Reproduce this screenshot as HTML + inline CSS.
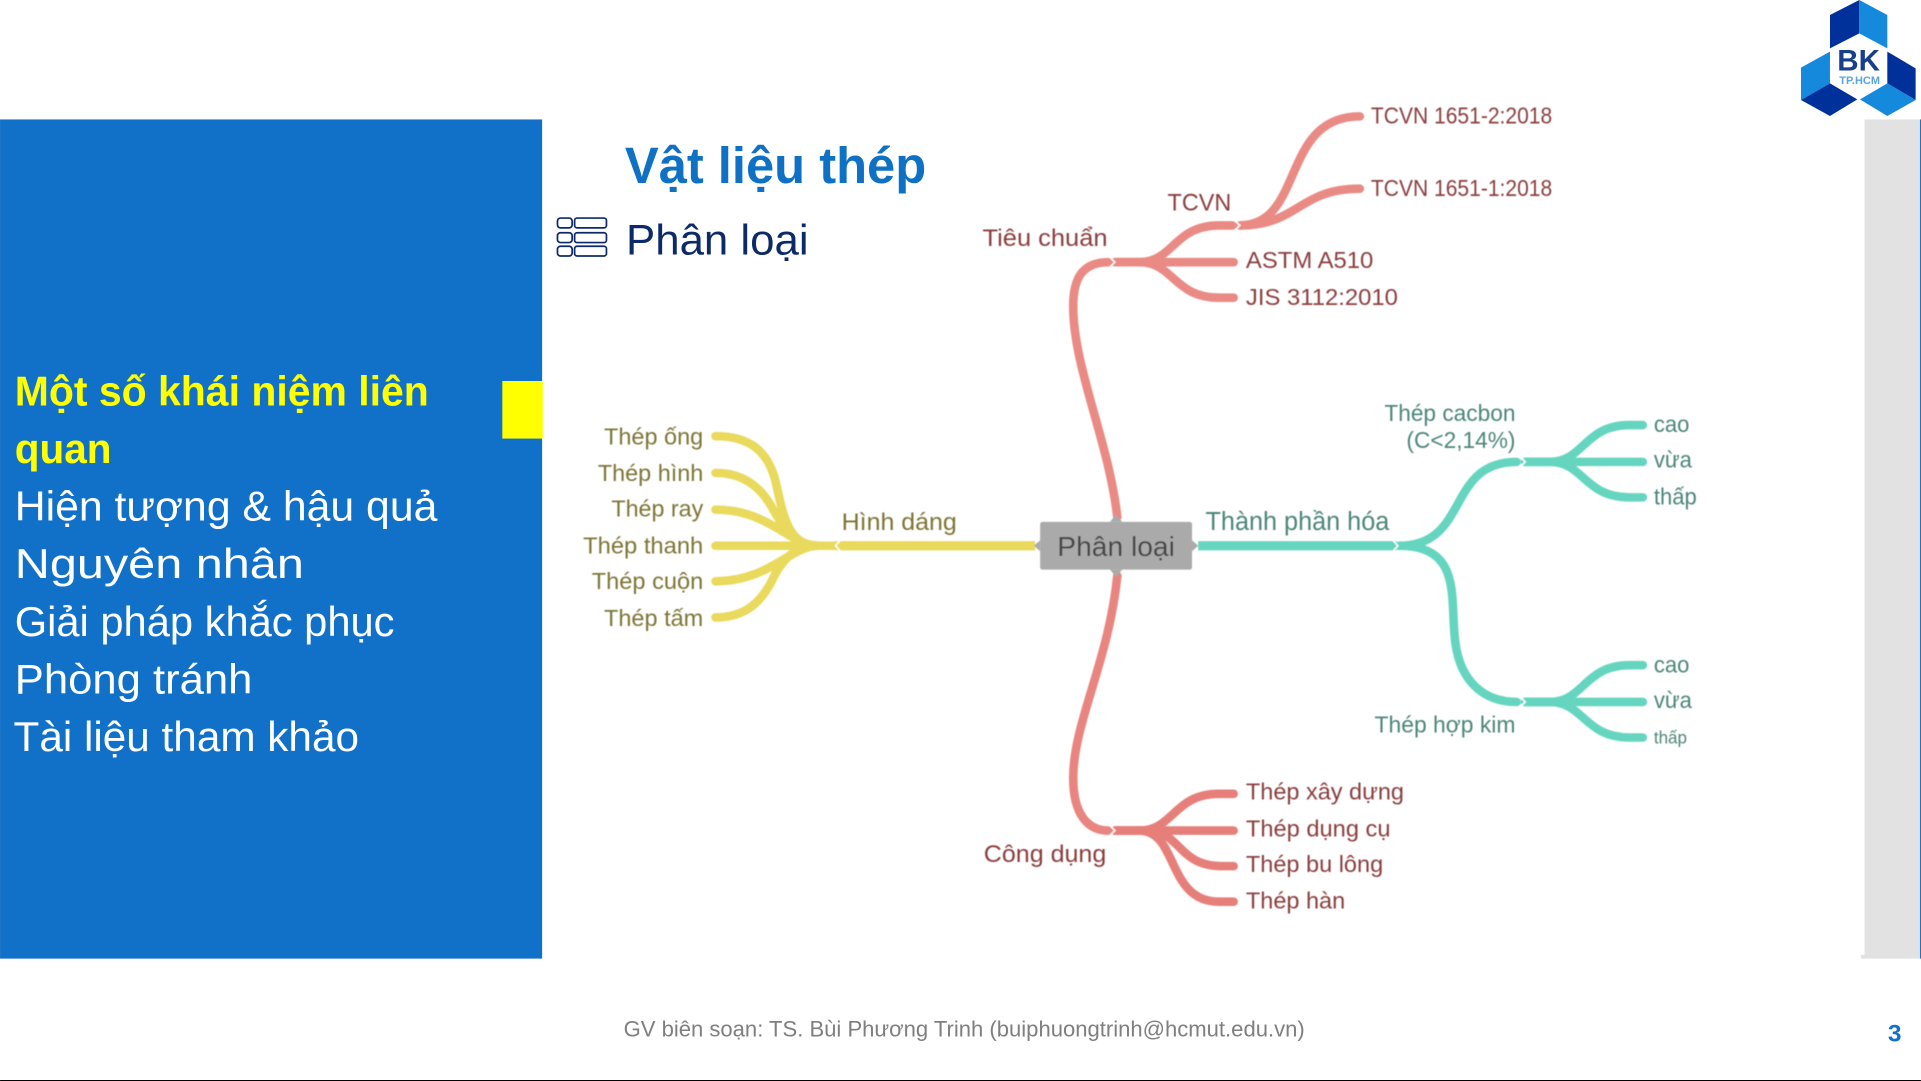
<!DOCTYPE html>
<html><head><meta charset="utf-8"><style>
html,body{margin:0;padding:0;background:#fff;width:1921px;height:1081px;overflow:hidden}
svg{display:block}
text{font-family:"Liberation Sans",sans-serif}
.s{font-size:34px;fill:#fff}
.r{fill:#8a3d3d;font-size:18.5px}
.y{fill:#7d7436;font-size:18.5px}
.t{fill:#4c8578;font-size:18.5px}
</style></head><body>
<svg width="1921" height="1081" viewBox="0 0 1568 882.4" xmlns="http://www.w3.org/2000/svg">
<defs><filter id="b" x="-5%" y="-5%" width="110%" height="110%"><feGaussianBlur stdDeviation="0.45"/></filter></defs>
<rect width="1568" height="882.4" fill="#fff"/>
<!-- sidebar -->
<rect x="0" y="97.5" width="442.5" height="685" fill="#1170c8"/>
<rect x="410" y="311" width="33" height="47" fill="#ffff00"/>
<text class="s" x="12" y="331" textLength="338" lengthAdjust="spacingAndGlyphs" style="fill:#ffff00;font-weight:bold">Một số khái niệm liên</text>
<text class="s" x="12" y="378" textLength="79" lengthAdjust="spacingAndGlyphs" style="fill:#ffff00;font-weight:bold">quan</text>
<text class="s" x="12" y="425" textLength="345" lengthAdjust="spacingAndGlyphs">Hiện tượng &amp; hậu quả</text>
<text class="s" x="12" y="472" textLength="236" lengthAdjust="spacingAndGlyphs">Nguyên nhân</text>
<text class="s" x="12" y="519" textLength="310" lengthAdjust="spacingAndGlyphs">Giải pháp khắc phục</text>
<text class="s" x="12" y="566" textLength="194" lengthAdjust="spacingAndGlyphs">Phòng tránh</text>
<text class="s" x="11" y="613" textLength="282" lengthAdjust="spacingAndGlyphs">Tài liệu tham khảo</text>
<!-- right column -->
<rect x="1522" y="97.5" width="46" height="685" fill="#e2e2e2"/>
<rect x="1519" y="779.5" width="4" height="3" fill="#e2e2e2"/>
<rect x="1567.2" y="97.5" width="0.8" height="685" fill="#1170c8"/>
<rect x="0" y="881.6" width="1568" height="0.82" fill="#000"/>
<!-- title -->
<text x="510" y="149.3" font-size="42" font-weight="bold" fill="#0f71c4" textLength="246" lengthAdjust="spacingAndGlyphs">Vật liệu thép</text>
<text x="511" y="207.6" font-size="35" fill="#0c2a6a" textLength="149" lengthAdjust="spacingAndGlyphs">Phân loại</text>
<g fill="none" stroke="#0c2a6a" stroke-width="1.4">
<rect x="455" y="178" width="12" height="8" rx="2.5"/><rect x="469" y="178" width="26" height="8" rx="2"/>
<rect x="455" y="190" width="12" height="8" rx="2.5"/><rect x="469" y="190" width="26" height="8" rx="2"/>
<rect x="455" y="201" width="12" height="8" rx="2.5"/><rect x="469" y="201" width="26" height="8" rx="2"/>
</g>
<!-- logo -->
<g transform="scale(0.81625) translate(1750,0) scale(0.33333)">
<polygon points="328,0 240,45 240,145 328,100" fill="#00309a"/>
<polygon points="328,0 412,45 412,145 328,100" fill="#1589dc"/>
<polygon points="412,155 497,205 497,300 412,250" fill="#00309a"/>
<polygon points="412,250 497,300 412,348 330,298" fill="#1589dc"/>
<polygon points="153,203 240,155 240,250 153,300" fill="#1589dc"/>
<polygon points="240,250 322,298 240,348 153,300" fill="#00309a"/>
<text x="262" y="212" font-size="90" font-weight="bold" fill="#173f8c" textLength="128" lengthAdjust="spacingAndGlyphs">BK</text>
<text x="268" y="252" font-size="32" font-weight="bold" fill="#5aa4e0" textLength="122" lengthAdjust="spacingAndGlyphs">TP.HCM</text>
</g>
<!-- mind map -->
<g filter="url(#b)">
<g fill="none" stroke-linecap="round" stroke-width="7">
<g stroke="#e9d95c">
<path d="M682 445.5H845" stroke-width="7.5" stroke-linecap="butt"/>
<path d="M684 445.5H668C645 445.5 640 425 634 397C628 368 612 356 584 356"/>
<path d="M684 445.5H668C650 445.5 640 432 630 414C620 396 605 386 584 386"/>
<path d="M684 445.5H668C645 445.5 628 416 584 416"/>
<path d="M684 445.5H584"/>
<path d="M684 445.5H668C645 445.5 628 474.5 584 474.5"/>
<path d="M684 445.5H668C650 445.5 640 455 632 470C622 492 608 504 584 504"/>
</g>
<g stroke="#e98a84">
<path d="M912 422C905 360 876 300 876 250C876 225 885 214 905 214"/>
<path d="M912 470C905 540 876 590 876 635C876 665 888 678 905 678" stroke="#e88580"/>
<path d="M910 214H930C958 214 958 184 995 184H1006"/>
<path d="M910 214H1007"/>
<path d="M910 214H930C958 214 958 243 995 243H1007"/>
<path d="M1012 184C1065 184 1045 95 1110 95"/>
<path d="M1012 184C1060 184 1060 154 1110 154"/>
</g>
<g stroke="#e67f7a">
<path d="M910 678H930C958 678 958 648 995 648H1007"/>
<path d="M910 678H1007"/>
<path d="M910 678H935C965 678 960 707 998 707H1007"/>
<path d="M910 678H930C962 678 952 736 995 736H1007"/>
</g>
<g stroke="#66d5bf">
<path d="M978 445.5H1140" stroke-width="7.5" stroke-linecap="butt"/>
<path d="M1142 445.5C1200 445.5 1180 377 1238 377"/>
<path d="M1142 445.5C1195 445.5 1183 490 1188 525C1192 555 1210 573 1238 573"/>
<path d="M1245 377H1265C1293 377 1293 347 1330 347H1341"/>
<path d="M1245 377H1341"/>
<path d="M1245 377H1265C1293 377 1293 406 1330 406H1341"/>
<path d="M1245 573H1265C1293 573 1293 543 1330 543H1341"/>
<path d="M1245 573H1341"/>
<path d="M1245 573H1265C1293 573 1293 602 1330 602H1341"/>
</g>
</g>
<g fill="none" stroke="#fff" stroke-width="1.3">
<polyline points="686,441 682,445.5 686,450"/>
<polyline points="1137,441 1141,445.5 1137,450"/>
<polyline points="906,210 910,214 906,218"/>
<polyline points="906,674 910,678 906,682"/>
<polyline points="1008,180 1012,184 1008,188"/>
<polyline points="1241,373 1245,377 1241,381"/>
<polyline points="1241,569 1245,573 1241,577"/>
</g>
<rect x="849" y="426" width="124" height="39" rx="2" fill="#aaaaaa"/>
<g fill="#aaaaaa">
<polygon points="911,420 916,426 906,426"/><polygon points="911,471 916,465 906,465"/>
<polygon points="844,445.5 849,441 849,450"/><polygon points="978,445.5 973,441 973,450"/>
</g>
<text x="863" y="454" font-size="23" fill="#444" textLength="96" lengthAdjust="spacingAndGlyphs">Phân loại</text>
<g transform="translate(0,0.8)">
<text class="r" x="1119" y="100" textLength="148" lengthAdjust="spacingAndGlyphs">TCVN 1651-2:2018</text>
<text class="r" x="1119" y="159" textLength="148" lengthAdjust="spacingAndGlyphs">TCVN 1651-1:2018</text>
<text class="r" x="953" y="171" textLength="52" lengthAdjust="spacingAndGlyphs" style="font-size:20px">TCVN</text>
<text class="r" x="802" y="200" textLength="102" lengthAdjust="spacingAndGlyphs" style="font-size:20px">Tiêu chuẩn</text>
<text class="r" x="1017" y="218" textLength="104" lengthAdjust="spacingAndGlyphs">ASTM A510</text>
<text class="r" x="1017" y="248" textLength="124" lengthAdjust="spacingAndGlyphs">JIS 3112:2010</text>
<text class="r" x="803" y="703" textLength="100" lengthAdjust="spacingAndGlyphs" style="font-size:20px">Công dụng</text>
<text class="r" x="1017" y="652" textLength="129" lengthAdjust="spacingAndGlyphs">Thép xây dựng</text>
<text class="r" x="1017" y="682" textLength="118" lengthAdjust="spacingAndGlyphs">Thép dụng cụ</text>
<text class="r" x="1017" y="711" textLength="112" lengthAdjust="spacingAndGlyphs">Thép bu lông</text>
<text class="r" x="1017" y="741" textLength="81" lengthAdjust="spacingAndGlyphs">Thép hàn</text>

<text class="y" x="687" y="432" textLength="94" lengthAdjust="spacingAndGlyphs" style="font-size:20px">Hình dáng</text>
<text class="y" x="493" y="362" textLength="81" lengthAdjust="spacingAndGlyphs">Thép ống</text>
<text class="y" x="488" y="392" textLength="86" lengthAdjust="spacingAndGlyphs">Thép hình</text>
<text class="y" x="499" y="421" textLength="75" lengthAdjust="spacingAndGlyphs">Thép ray</text>
<text class="y" x="476" y="451" textLength="98" lengthAdjust="spacingAndGlyphs">Thép thanh</text>
<text class="y" x="483" y="480" textLength="91" lengthAdjust="spacingAndGlyphs">Thép cuộn</text>
<text class="y" x="493" y="510" textLength="81" lengthAdjust="spacingAndGlyphs">Thép tấm</text>

<text class="t" x="984" y="432" textLength="150" lengthAdjust="spacingAndGlyphs" style="font-size:21px">Thành phần hóa</text>
<text class="t" x="1130" y="343" textLength="107" lengthAdjust="spacingAndGlyphs">Thép cacbon</text>
<text class="t" x="1148" y="365" textLength="89" lengthAdjust="spacingAndGlyphs">(C&lt;2,14%)</text>
<text class="t" x="1122" y="597" textLength="115" lengthAdjust="spacingAndGlyphs">Thép hợp kim</text>
<text class="t" x="1350" y="352" textLength="29" lengthAdjust="spacingAndGlyphs">cao</text>
<text class="t" x="1350" y="381" textLength="31" lengthAdjust="spacingAndGlyphs">vừa</text>
<text class="t" x="1350" y="411" textLength="35" lengthAdjust="spacingAndGlyphs">thấp</text>
<text class="t" x="1350" y="548" textLength="29" lengthAdjust="spacingAndGlyphs">cao</text>
<text class="t" x="1350" y="577" textLength="31" lengthAdjust="spacingAndGlyphs">vừa</text>
<text class="t" x="1350" y="606" textLength="27" lengthAdjust="spacingAndGlyphs" style="font-size:14px">thấp</text>
</g>
</g>
<!-- footer -->
<text x="509" y="846" font-size="18" fill="#7f7f7f" textLength="556" lengthAdjust="spacingAndGlyphs">GV biên soạn: TS. Bùi Phương Trinh (buiphuongtrinh@hcmut.edu.vn)</text>
<text x="1541" y="850" font-size="20" font-weight="bold" fill="#1170c8">3</text>
</svg>
</body></html>
